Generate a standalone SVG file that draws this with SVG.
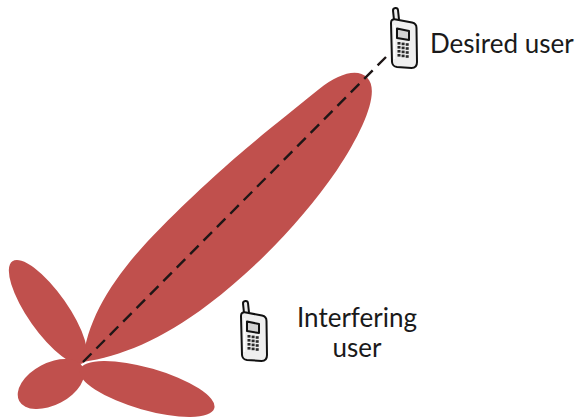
<svg xmlns="http://www.w3.org/2000/svg" width="582" height="418" viewBox="0 0 582 418">
  <style>
    .lobe { fill: #C0504D; }
    .label { font-family: "Lato", "Open Sans", "Liberation Sans", sans-serif; font-size: 26px; fill: #1a1a1a; }
    .beam { stroke: #1e1616; stroke-width: 2.4; stroke-dasharray: 12 7; fill: none; }
    .ph-line { stroke: #111; stroke-width: 2; stroke-linejoin: round; stroke-linecap: round; }
  </style>
  <defs>
    <!-- handset icon, 30 x 62 -->
    <g id="phone">
      <rect class="ph-line" x="5.5" y="1" width="5" height="14" rx="2.5" fill="#eeeeee" stroke-width="2.2" transform="rotate(-6 8 8)"/>
      <path class="ph-line" d="M3,16 Q3,11.5 8,12.5 L24,15.5 Q28.5,16.5 28.5,21 L29,55 Q29,61 23.5,61 L9,60 Q4.5,59.5 4,55 Z" fill="#efefef" stroke-width="2.8"/>
      <path d="M6.5,18 L6.5,52" stroke="#ffffff" stroke-width="1.5"/>
      <path class="ph-line" d="M9,21.5 L21,24 L21,33 L9,31 Z" fill="#d2d2d2" stroke-width="1.5"/>
      <g fill="#2a2a2a">
        <rect x="9.5" y="35" width="3" height="2.6"/><rect x="13.6" y="35.6" width="3" height="2.6"/><rect x="17.7" y="36.2" width="3" height="2.6"/>
        <rect x="9.5" y="39" width="3" height="2.6"/><rect x="13.6" y="39.6" width="3" height="2.6"/><rect x="17.7" y="40.2" width="3" height="2.6"/>
        <rect x="9.5" y="43" width="3" height="2.6"/><rect x="13.6" y="43.6" width="3" height="2.6"/><rect x="17.7" y="44.2" width="3" height="2.6"/>
        <rect x="9.5" y="47" width="3" height="2.6"/><rect x="13.6" y="47.6" width="3" height="2.6"/><rect x="17.7" y="48.2" width="3" height="2.6"/>
      </g>
    </g>
  </defs>

  <rect width="582" height="418" fill="#ffffff"/>

  <!-- radiation pattern: main beam and three side lobes -->
  <g id="pattern">
    <path class="lobe" transform="translate(83,362) rotate(-45)"
          d="M0,0 C30,22 70,40 130,48 C190,56 255,55 315,44 C365,34 402,18 402,0 C402,-14 385,-23 360,-26 C300,-32 250,-40 150,-40 C90,-40 35,-30 0,0 Z"/>
    <ellipse class="lobe" cx="48" cy="312" rx="62" ry="20" transform="rotate(55 48 312)"/>
    <ellipse class="lobe" cx="51" cy="384" rx="36" ry="21" transform="rotate(-28 51 384)"/>
    <ellipse class="lobe" cx="147" cy="389" rx="70" ry="21" transform="rotate(16 147 389)"/>
  </g>

  <g id="connectors">
    <line class="beam" x1="83" y1="362" x2="386" y2="57"/>
  </g>

  <g id="desired-user">
    <use href="#phone" transform="translate(388,7)"/>
    <text class="label" x="430" y="53">Desired user</text>
  </g>

  <g id="interfering-user">
    <use href="#phone" transform="translate(238,300)"/>
    <text class="label" x="357" y="327" text-anchor="middle">Interfering</text>
    <text class="label" x="357" y="357" text-anchor="middle">user</text>
  </g>
</svg>
